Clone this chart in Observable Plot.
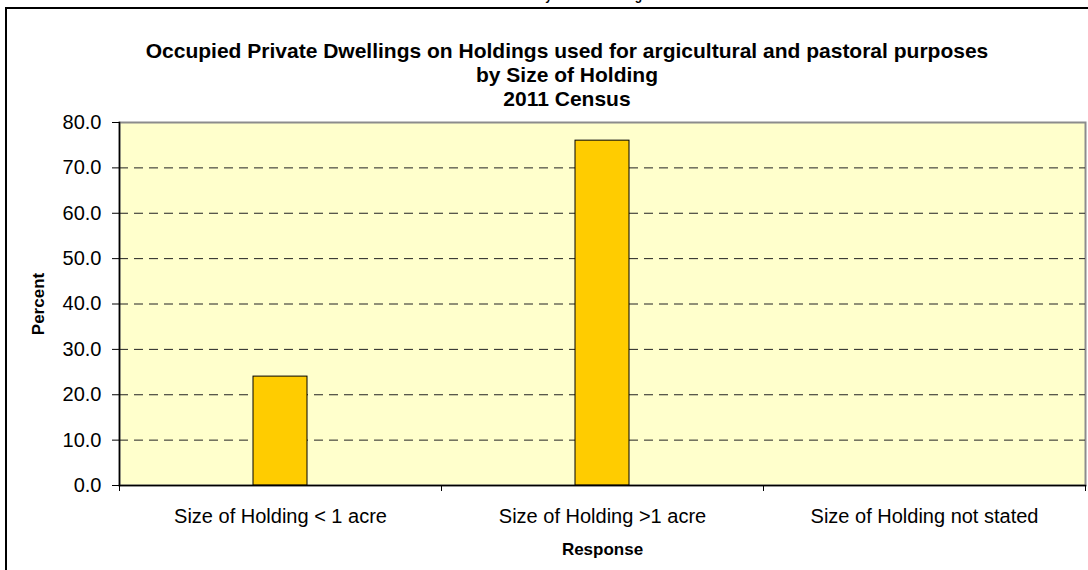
<!DOCTYPE html>
<html>
<head>
<meta charset="utf-8">
<script src="https://cdn.jsdelivr.net/npm/d3@7"></script>
<script src="https://cdn.jsdelivr.net/npm/@observablehq/plot@0.6"></script>
<style>
  html, body { margin: 0; padding: 0; background: #fff; }
  #page { position: relative; width: 1088px; height: 570px; overflow: hidden; font-family: Arial, "Liberation Sans", sans-serif; }
  #outer { position: absolute; left: 5px; top: 7px; width: 1200px; height: 700px; border-left: 2px solid #000; border-top: 2px solid #000; }
  #cut { position: absolute; left: 0; top: 0; width: 1088px; height: 7px; overflow: hidden; }
  #cut div { position: absolute; left: 390px; width: 400px; top: -10.5px; text-align: center; font: bold 12px/12px Arial, "Liberation Sans", sans-serif; }
  #title { position: absolute; left: 67px; width: 1000px; top: 39px; text-align: center; font: bold 21px/24px Arial, "Liberation Sans", sans-serif; color: #000; }
  #chart { position: absolute; left: 0; top: 112px; }
</style>
</head>
<body>
<div id="page">
  <div id="outer"></div>
  <div id="cut"><div>by Size of Holding</div></div>
  <div id="title">Occupied Private Dwellings on Holdings used for argicultural and pastoral purposes<br>by Size of Holding<br>2011 Census</div>
  <div id="chart"></div>
</div>
<script>
const categories = ["Size of Holding < 1 acre", "Size of Holding >1 acre", "Size of Holding not stated"];
const percents = [24.0, 76.0, 0.0];
const yTicks = [0, 10, 20, 30, 40, 50, 60, 70, 80];
const gridValues = [10, 20, 30, 40, 50, 60, 70];
const yLabel = "Percent";
const xLabel = "Response";

const data = categories.map((c, i) => ({category: c, value: percents[i]}));
const half = (1085 - 119) / categories.length / 2;

const chart = Plot.plot({
  width: 1088,
  height: 458,
  marginTop: 10,
  marginBottom: 85,
  marginLeft: 119,
  marginRight: 3,
  style: {fontFamily: "Arial, 'Liberation Sans', sans-serif", color: "#000", background: "transparent", overflow: "visible"},
  x: {domain: categories, padding: 0, axis: null},
  y: {domain: [0, 80], axis: null},
  marks: [
    Plot.frame({fill: "#ffffcc", stroke: "#8c8c8c", strokeWidth: 2}),
    Plot.ruleY(gridValues, {stroke: "#222", strokeDasharray: "9,6", strokeWidth: 1}),
    Plot.barY(data, {x: "category", y: "value", fill: "#ffcc00", stroke: "#000", strokeWidth: 1, insetLeft: half - 27, insetRight: half - 27}),
    Plot.frame({anchor: "left", stroke: "#000", strokeWidth: 1.5}),
    Plot.frame({anchor: "bottom", stroke: "#000", strokeWidth: 1.5}),
    Plot.ruleX(categories, {x: d => d, y1: 0, y2: 0, dx: -half, insetBottom: -6, stroke: "#000"}),
    Plot.ruleX(categories.slice(-1), {x: d => d, y1: 0, y2: 0, dx: half, insetBottom: -6, stroke: "#000"}),
    Plot.axisY({ticks: yTicks, tickFormat: d => d.toFixed(1), tickSize: 7, tickPadding: 11, fontSize: 20, label: null}),
    Plot.text(categories, {x: d => d, frameAnchor: "bottom", dy: 31, lineAnchor: "middle", fontSize: 20, fill: "#000"}),
    Plot.text([xLabel], {frameAnchor: "bottom", dy: 64, lineAnchor: "middle", fontSize: 17, fontWeight: "bold", fill: "#000"}),
    Plot.text([yLabel], {frameAnchor: "left", dx: -81, rotate: -90, textAnchor: "middle", lineAnchor: "middle", fontSize: 17, fontWeight: "bold", fill: "#000"})
  ]
});
document.getElementById("chart").appendChild(chart);
</script>
</body>
</html>
